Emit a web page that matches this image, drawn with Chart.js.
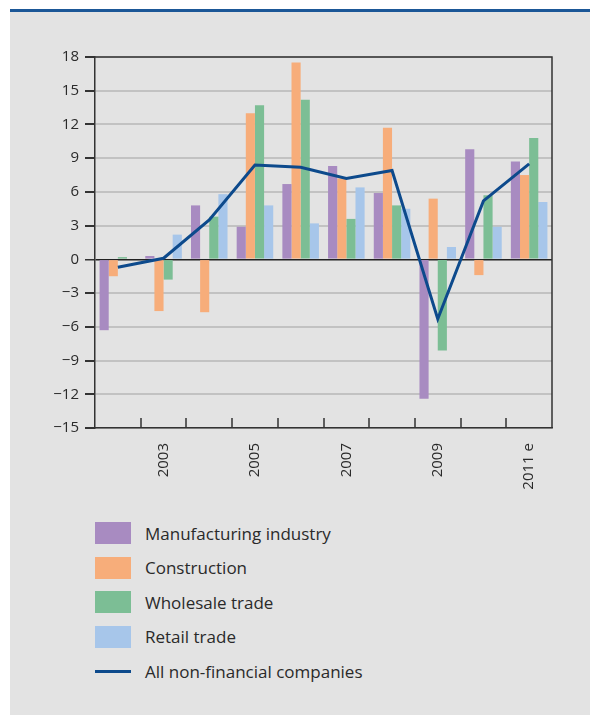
<!DOCTYPE html>
<html>
<head>
<meta charset="utf-8">
<script src="https://cdn.jsdelivr.net/npm/chart.js@4/dist/chart.umd.min.js"></script>
<style>
    html, body { margin: 0; padding: 0; background: #fff; }
    body { width: 590px; height: 715px; position: relative; overflow: hidden; font-family: "Open Sans", sans-serif; }
    #topline { position: absolute; left: 10px; top: 9px; width: 580px; height: 3px; background: #1b5797; }
    #panel { position: absolute; left: 10px; top: 12px; width: 580px; height: 703px; background: #e3e3e3; }
    #chart-wrap { position: absolute; left: 0; top: 0; width: 580px; height: 488px; }
    #legend { position: absolute; left: 85px; top: 504px; margin: 0; padding: 0; list-style: none; }
    #legend li { height: 34.5px; display: flex; align-items: center; color: #2a2a2a; font-size: 17px; }
    #legend .swatch { width: 36px; height: 22px; margin-right: 14px; }
    #legend .swatch.line { height: 3px; margin-top: 1px; }
</style>
</head>
<body>
<div id="topline"></div>
<div id="panel">
    <div id="chart-wrap"><canvas id="profits-chart" width="580" height="488"></canvas></div>
    <ul id="legend"></ul>
</div>
<script>
// Year-on-year change by sector, 2002 to 2011 (estimate)
const years = ['2002', '2003', '2004', '2005', '2006', '2007', '2008', '2009', '2010', '2011 e'];
const manufacturing = [-6.3, 0.3, 4.8, 2.9, 6.7, 8.3, 5.9, -12.4, 9.8, 8.7];
const construction = [-1.5, -4.6, -4.7, 13.0, 17.5, 7.2, 11.7, 5.4, -1.4, 7.5];
const wholesale = [0.2, -1.8, 3.8, 13.7, 14.2, 3.6, 4.8, -8.1, 5.7, 10.8];
const retail = [0, 2.2, 5.8, 4.8, 3.2, 6.4, 4.5, 1.1, 2.9, 5.1];
const allCompanies = [-0.7, 0.1, 3.5, 8.4, 8.2, 7.2, 7.9, -5.3, 5.2, 8.5];
const yTicks = [-15, -12, -9, -6, -3, 0, 3, 6, 9, 12, 15, 18];

const FONT = '"Open Sans", sans-serif';
const INK = '#2a2a2a';

// Top/right frame plus the short inward ticks between categories
const framePlugin = {
    id: 'frame',
    afterDraw(chart) {
        const { ctx, chartArea } = chart;
        const x = chart.scales.x;
        ctx.save();
        ctx.strokeStyle = '#333';
        ctx.lineWidth = 1.5;
        ctx.beginPath();
        ctx.moveTo(chartArea.left, chartArea.top);
        ctx.lineTo(chartArea.right, chartArea.top);
        ctx.lineTo(chartArea.right, chartArea.bottom);
        for (let i = 1; i < years.length; i++) {
            const px = Math.round((x.getPixelForValue(i - 1) + x.getPixelForValue(i)) / 2);
            ctx.moveTo(px, chartArea.bottom);
            ctx.lineTo(px, chartArea.bottom - 10);
        }
        ctx.stroke();
        ctx.restore();
    }
};

function bar(label, data, color) {
    return {
        type: 'bar', label, data, backgroundColor: color, borderWidth: 0,
        categoryPercentage: 0.8, barPercentage: 1.0, order: 1
    };
}

const chart = new Chart(document.getElementById('profits-chart'), {
    data: {
        labels: years,
        datasets: [
            bar('Manufacturing industry', manufacturing, '#a88bc1'),
            bar('Construction', construction, '#f7ad7a'),
            bar('Wholesale trade', wholesale, '#7cbe95'),
            bar('Retail trade', retail, '#a7c6ea'),
            {
                type: 'line', label: 'All non-financial companies', data: allCompanies,
                borderColor: '#0d4a8c', borderWidth: 3, pointRadius: 0, tension: 0,
                fill: false, order: 0
            }
        ]
    },
    options: {
        responsive: false,
        animation: false,
        layout: { padding: { left: 0, right: 38, top: 45, bottom: 0 } },
        plugins: { legend: { display: false }, tooltip: { enabled: false } },
        scales: {
            x: {
                afterFit(scale) { scale.height = 72; },
                grid: { display: true, drawOnChartArea: false, drawTicks: false },
                border: { color: '#333', width: 1.5 },
                ticks: {
                    autoSkip: false, maxRotation: 90, minRotation: 90, padding: 15,
                    color: INK, font: { family: FONT, size: 15 },
                    callback: (value, index) => (index % 2 === 1 ? years[index] : '')
                }
            },
            y: {
                min: yTicks[0],
                max: yTicks[yTicks.length - 1],
                afterFit(scale) { scale.width = 85; },
                afterBuildTicks(scale) { scale.ticks = yTicks.map(v => ({ value: v })); },
                grid: {
                    color: ctx => (ctx.tick && ctx.tick.value === 0 ? '#222' : '#c2c2c2'),
                    lineWidth: ctx => (ctx.tick && ctx.tick.value === 0 ? 1.5 : 2),
                    tickColor: '#333', tickLength: 10
                },
                border: { color: '#333', width: 1.5 },
                ticks: {
                    padding: 6, color: INK, font: { family: FONT, size: 15 },
                    callback: v => (v < 0 ? '\u2212' + Math.abs(v) : String(v))
                }
            }
        }
    },
    plugins: [framePlugin]
});

// Legend built from the chart's datasets, one entry per row
const legend = document.getElementById('legend');
legend.innerHTML = chart.data.datasets.map(ds => {
    const isLine = ds.type === 'line';
    const color = isLine ? ds.borderColor : ds.backgroundColor;
    return `<li><span class="swatch${isLine ? ' line' : ''}" style="background:${color}"></span>${ds.label}</li>`;
}).join('');
</script>
</body>
</html>
